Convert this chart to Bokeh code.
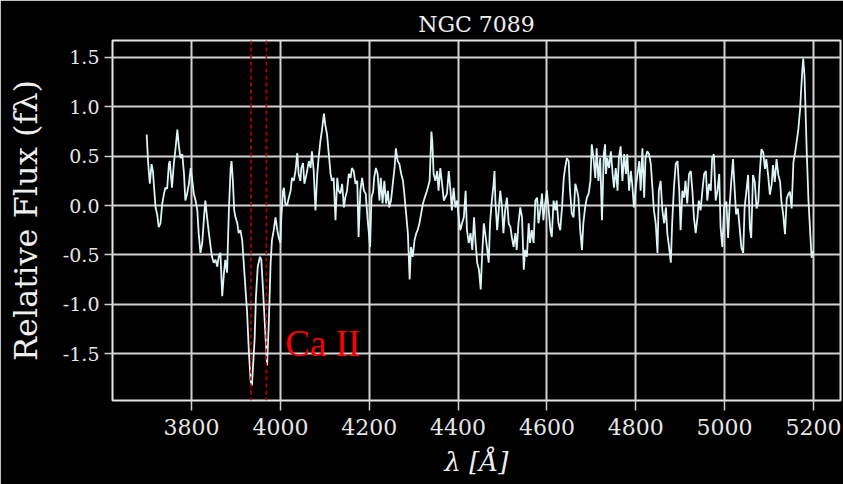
from bokeh.plotting import figure
from bokeh.models import Range1d, FixedTicker, PrintfTickFormatter, Span, Label
from bokeh.embed import file_html
from bokeh.resources import INLINE

# ---------------- data ----------------
wl_a = [3699, 3702, 3706, 3710, 3713, 3715, 3719, 3723, 3726, 3730,
        3734, 3738, 3741, 3745, 3749, 3751, 3754, 3756, 3760, 3764,
        3768, 3771, 3775, 3779, 3783, 3786, 3790, 3794, 3798, 3801,
        3805, 3809, 3813, 3816, 3820, 3824, 3828, 3831, 3835, 3839,
        3843, 3846, 3850, 3854, 3858, 3861, 3865, 3869, 3873, 3876,
        3880, 3884, 3888, 3890, 3893, 3896, 3899, 3903, 3906, 3910,
        3914, 3918, 3921, 3925, 3929, 3933, 3936]
flux_a = [0.72, 0.45, 0.22, 0.42, 0.35, 0.22, -0.02, -0.10, -0.22, -0.18,
          0.02, 0.12, 0.18, 0.17, 0.42, 0.45, 0.28, 0.18, 0.42, 0.58,
          0.77, 0.62, 0.48, 0.52, 0.32, 0.05, 0.12, 0.22, 0.38, 0.28,
          0.12, 0.05, -0.05, -0.28, -0.48, -0.38, -0.12, 0.05, -0.12, -0.28,
          -0.42, -0.52, -0.58, -0.55, -0.62, -0.52, -0.48, -0.92, -0.68, -0.55,
          -0.68, -0.05, 0.38, 0.45, 0.25, -0.05, -0.12, -0.18, -0.28, -0.25,
          -0.35, -0.62, -0.82, -1.08, -1.48, -1.78, -1.82]

wl_b = [3942, 3945, 3949, 3954, 3957, 3960, 3964, 3968, 3970, 3974,
        3978, 3981, 3985, 3989, 3993, 3996, 4000, 4002, 4006, 4008,
        4011, 4015, 4019, 4023, 4026, 4030, 4034, 4038, 4041, 4045,
        4047, 4051, 4054, 4059, 4064, 4068, 4071, 4075, 4079, 4083,
        4086, 4090, 4094, 4098, 4101, 4105, 4109, 4113, 4116, 4120,
        4124, 4128, 4131, 4135, 4139, 4143, 4146, 4150, 4154, 4158,
        4161, 4165, 4169, 4173, 4176, 4180, 4184, 4188]
flux_b = [-1.35, -0.92, -0.62, -0.52, -0.55, -0.78, -1.12, -1.45, -1.62, -1.18,
          -0.58, -0.35, -0.25, -0.12, -0.25, -0.32, -0.38, -0.12, 0.15, 0.18,
          0.02, 0.00, 0.08, 0.15, 0.28, 0.25, 0.35, 0.53, 0.32, 0.25,
          0.38, 0.43, 0.22, 0.32, 0.45, 0.38, 0.55, 0.35, -0.05, 0.32,
          0.48, 0.65, 0.78, 0.93, 0.82, 0.72, 0.52, 0.32, 0.25, 0.28,
          -0.15, 0.28, 0.15, 0.12, 0.22, -0.02, 0.08, 0.15, 0.32, 0.28,
          0.38, 0.35, 0.22, 0.25, -0.32, 0.15, 0.28, 0.15]

wl_c = [4192, 4196, 4200, 4202, 4205, 4209, 4211, 4215, 4219, 4223,
        4226, 4230, 4234, 4238, 4242, 4245, 4249, 4253, 4257, 4260,
        4264, 4268, 4272, 4276, 4279, 4283, 4287, 4291, 4294, 4298,
        4302, 4306, 4309, 4313, 4317, 4321, 4325, 4328, 4332, 4336,
        4340, 4342, 4345, 4349, 4353, 4356, 4360, 4364, 4368, 4371,
        4375, 4379, 4383, 4386, 4390, 4394, 4398, 4402, 4405, 4409,
        4413, 4417, 4420, 4424, 4428, 4432, 4436, 4439, 4443, 4447,
        4451, 4454, 4458]
flux_c = [0.12, -0.12, -0.32, -0.42, 0.08, 0.15, 0.28, 0.38, 0.32, 0.05,
          0.28, 0.02, 0.25, 0.02, 0.15, -0.02, 0.05, 0.22, 0.38, 0.58,
          0.45, 0.42, 0.32, 0.25, 0.12, -0.08, -0.28, -0.75, -0.42, -0.52,
          -0.35, -0.28, -0.25, -0.18, -0.08, 0.02, 0.08, 0.12, 0.18, 0.25,
          0.75, 0.65, 0.32, 0.25, 0.35, 0.15, 0.38, 0.22, 0.05, 0.08,
          0.12, 0.35, 0.15, -0.05, 0.18, -0.02, 0.05, -0.15, -0.25, -0.18,
          -0.12, 0.15, -0.25, -0.38, -0.28, -0.45, -0.12, -0.35, -0.58, -0.65,
          -0.85, -0.52, -0.18]

wl_d = [4461, 4465, 4469, 4472, 4476, 4480, 4482, 4484, 4488, 4491,
        4495, 4499, 4502, 4506, 4510, 4514, 4518, 4521, 4525, 4529,
        4532, 4536, 4540, 4544, 4548, 4551, 4555, 4559, 4562, 4566,
        4570, 4574, 4578, 4581, 4585, 4589, 4592, 4596, 4600, 4604,
        4608, 4611, 4615, 4619, 4622, 4626, 4630, 4634, 4638, 4641,
        4645, 4649, 4652, 4656, 4660, 4664, 4668, 4671, 4675, 4679,
        4682, 4686, 4690, 4694, 4698, 4701, 4705, 4709, 4712, 4716,
        4720, 4724, 4728, 4731]
flux_d = [-0.28, -0.42, -0.58, -0.18, 0.05, 0.22, 0.35, 0.05, -0.25, -0.08,
          0.15, -0.02, -0.28, -0.05, 0.08, -0.18, -0.22, -0.32, -0.42, -0.28,
          -0.45, -0.18, -0.02, -0.12, -0.65, -0.45, -0.52, -0.18, -0.38, -0.25,
          -0.38, 0.05, 0.08, -0.18, -0.05, 0.12, -0.15, 0.02, 0.15, -0.05,
          -0.25, -0.32, 0.05, -0.05, 0.05, -0.18, -0.25, -0.02, 0.28, 0.38,
          0.48, 0.45, 0.15, -0.08, -0.12, 0.22, 0.15, 0.08, -0.25, -0.45,
          -0.18, -0.02, 0.08, 0.12, 0.25, 0.62, 0.48, 0.28, 0.58, 0.25,
          0.48, -0.15, 0.52, 0.62]

wl_e = [4733, 4736, 4740, 4744, 4748, 4751, 4755, 4759, 4762, 4766,
        4770, 4774, 4778, 4781, 4785, 4789, 4792, 4796, 4800, 4804,
        4808, 4811, 4815, 4819, 4822, 4826, 4830, 4834, 4838, 4841,
        4845, 4849, 4852, 4856, 4860, 4864, 4868, 4871, 4875, 4879,
        4882, 4886, 4890, 4894, 4898, 4901, 4905, 4909, 4912, 4916,
        4920, 4924, 4928, 4931, 4935, 4939, 4942, 4946, 4950, 4954,
        4958, 4961, 4965, 4969, 4972, 4976, 4980, 4984, 4988, 4991,
        4995, 4999]
flux_e = [0.32, 0.48, 0.38, 0.55, 0.32, 0.18, 0.38, 0.15, 0.48, 0.60,
          0.25, 0.52, 0.32, 0.52, 0.15, 0.35, 0.22, -0.02, 0.18, 0.32,
          0.45, 0.15, 0.58, 0.08, 0.48, 0.55, 0.52, 0.42, 0.15, -0.05,
          -0.18, -0.48, 0.15, 0.25, -0.05, -0.18, -0.02, -0.28, -0.42, -0.58,
          -0.18, 0.18, 0.42, 0.45, 0.15, -0.25, 0.15, 0.08, 0.25, 0.02,
          0.32, 0.35, 0.12, -0.12, -0.28, -0.12, 0.05, -0.05, 0.15, 0.32,
          0.35, 0.05, 0.22, 0.15, 0.48, 0.52, 0.05, 0.15, 0.32, -0.22,
          -0.42, -0.02]

wl_f = [5004, 5008, 5011, 5015, 5019, 5023, 5026, 5030, 5034, 5038,
        5042, 5045, 5049, 5053, 5057, 5060, 5064, 5068, 5072, 5076,
        5079, 5083, 5087, 5091, 5094, 5098, 5102, 5106, 5109, 5113,
        5117, 5121, 5125, 5128, 5132, 5136, 5140, 5143, 5147, 5151,
        5155, 5159, 5162, 5166, 5170, 5172, 5175, 5177, 5180, 5182,
        5185, 5189, 5193, 5196, 5199]
flux_f = [0.04, -0.33, -0.03, 0.24, 0.47, 0.14, -0.09, -0.03, -0.23, -0.43,
          -0.48, -0.03, 0.14, 0.31, -0.23, -0.33, 0.31, 0.24, -0.03, 0.04,
          0.31, 0.57, 0.54, 0.37, 0.47, 0.31, 0.11, 0.21, 0.41, 0.24,
          0.47, 0.31, 0.24, 0.04, -0.09, -0.29, 0.07, 0.11, 0.14, -0.03,
          0.44, 0.54, 0.64, 0.77, 0.97, 1.14, 1.37, 1.49, 1.31, 1.01,
          0.54, 0.04, -0.29, -0.53, -0.46]

ca_lines = [3933.66, 3968.47]       # Ca II K and H
ca_label = "Ca II"
x_ticks = [3800, 4000, 4200, 4400, 4600, 4800, 5000, 5200]
y_ticks = [-1.5, -1.0, -0.5, 0.0, 0.5, 1.0, 1.5]
title_text = "NGC 7089"
x_label = "λ [Å]"
y_label = "Relative Flux (fλ)"

wavelength = wl_a + wl_b + wl_c + wl_d + wl_e + wl_f
flux = flux_a + flux_b + flux_c + flux_d + flux_e + flux_f
assert len(wavelength) == len(flux)

# ---------------- figure ----------------
FONT = "DejaVu Serif"
p = figure(frame_width=728, frame_height=360,
           min_border_left=112, min_border_right=3,
           min_border_top=40, min_border_bottom=84,
           x_range=Range1d(3622, 5261), y_range=Range1d(-1.976, 1.672),
           output_backend="svg", toolbar_location=None,
           background_fill_color="black", border_fill_color="black")

p.title.text = title_text
p.title.align = "center"
p.title.text_color = "#eeeeee"
p.title.text_font = FONT
p.title.text_font_size = "22px"
p.title.text_font_style = "normal"
p.title.standoff = 8

p.outline_line_color = "#e6e6e6"
p.outline_line_width = 2

for g in (p.xgrid, p.ygrid):
    g.grid_line_color = "#d2d2d2"
    g.grid_line_width = 2
p.xgrid.ticker = FixedTicker(ticks=x_ticks)
p.ygrid.ticker = FixedTicker(ticks=y_ticks)

p.xaxis.ticker = FixedTicker(ticks=x_ticks)
p.yaxis.ticker = FixedTicker(ticks=y_ticks)
p.yaxis.formatter = PrintfTickFormatter(format="%.1f")

for ax in (p.xaxis[0], p.yaxis[0]):
    ax.axis_line_color = None
    ax.major_tick_line_color = "#d2d2d2"
    ax.major_tick_line_width = 1.5
    ax.major_tick_in = 0
    ax.minor_tick_line_color = None
    ax.major_label_text_font = FONT
    ax.major_label_text_color = "#e6e6e6"
    ax.axis_label_text_font = FONT
    ax.axis_label_text_color = "#eeeeee"

p.xaxis.major_tick_out = 10
p.xaxis.major_label_standoff = 8
p.xaxis.major_label_text_font_size = "22px"
p.xaxis.axis_label = x_label
p.xaxis.axis_label_text_font_size = "26px"
p.xaxis.axis_label_text_font_style = "italic"
p.xaxis.axis_label_standoff = 9

p.yaxis.major_tick_out = 8
p.yaxis.major_label_standoff = 5
p.yaxis.major_label_text_font_size = "19px"
p.yaxis.axis_label = y_label
p.yaxis.axis_label_text_font_size = "32px"
p.yaxis.axis_label_text_font_style = "normal"
p.yaxis.axis_label_standoff = 15

for loc in ca_lines:
    p.add_layout(Span(location=loc, dimension="height", line_color="#c00000",
                      line_dash="4 3", line_width=1.6))

p.line(wavelength, flux, line_color="#dcf4f4", line_width=1.8)

p.add_layout(Label(x=4011, y=-1.40, text=ca_label, text_color="#ff0000",
                   text_font="Liberation Serif", text_font_size="37px",
                   text_baseline="alphabetic"))

open("out.html", "w").write(file_html(p, INLINE))
